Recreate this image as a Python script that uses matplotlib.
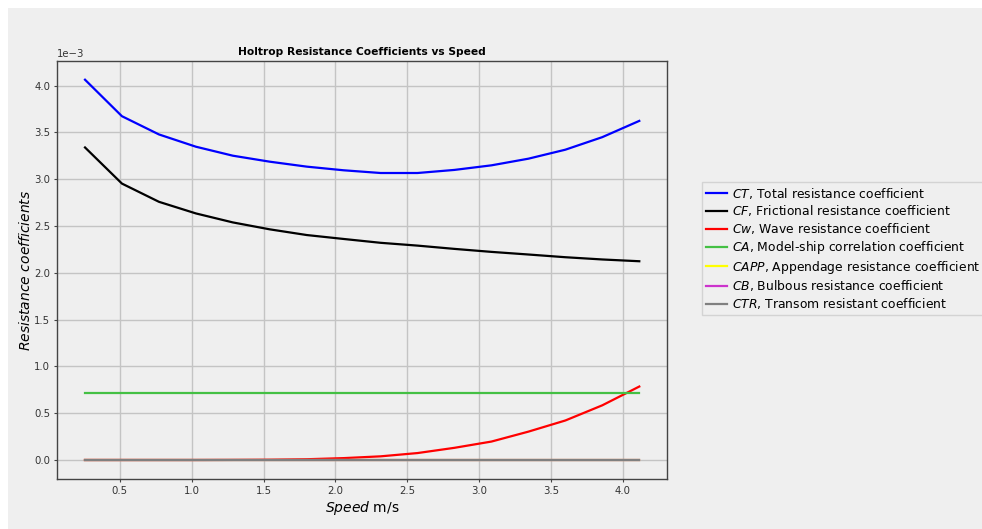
import matplotlib
matplotlib.use("Agg")
import matplotlib.pyplot as plt
from matplotlib.patches import Rectangle

# Ship speeds (m/s): 0.5 to 8 knots in 0.5 kn steps
speed = [0.257, 0.514, 0.772, 1.029, 1.286, 1.543, 1.801, 2.058,
         2.315, 2.572, 2.829, 3.087, 3.344, 3.601, 3.858, 4.116]

# Holtrop resistance coefficient components
CT = [4.064, 3.674, 3.479, 3.348, 3.252, 3.188, 3.135, 3.096,
      3.067, 3.067, 3.100, 3.149, 3.220, 3.316, 3.450, 3.624]
CF = [3.340, 2.954, 2.759, 2.635, 2.539, 2.465, 2.404, 2.362,
      2.321, 2.291, 2.256, 2.224, 2.196, 2.167, 2.143, 2.124]
CW = [0.000, 0.000, 0.000, 0.000, 0.001, 0.003, 0.008, 0.020,
      0.039, 0.074, 0.130, 0.197, 0.303, 0.422, 0.584, 0.785]
CA = [0.715] * 16
CAPP = [0.0] * 16
CB = [0.0] * 16
CTR = [0.0] * 16

labels = [
    r"$CT$, Total resistance coefficient",
    r"$CF$, Frictional resistance coefficient",
    r"$Cw$, Wave resistance coefficient",
    r"$CA$, Model-ship correlation coefficient",
    r"$CAPP$, Appendage resistance coefficient",
    r"$CB$, Bulbous resistance coefficient",
    r"$CTR$, Transom resistant coefficient",
]
colors = ["#0000ff", "#000000", "#ff0000", "#44c044", "#ffff00", "#cc33cc", "#808080"]
series = [CT, CF, CW, CA, CAPP, CB, CTR]

bg = "#efefef"
fig = plt.figure(figsize=(9.82, 5.29), dpi=100, facecolor="white")
fig.patches.append(Rectangle((8 / 982, 0), 1, 1 - 8 / 529, transform=fig.transFigure,
                             facecolor=bg, edgecolor="none", zorder=-10))
ax = fig.add_axes([57.3 / 982, 1 - 479 / 529, (667 - 57.3) / 982, (479 - 60.7) / 529])
ax.set_facecolor(bg)

for vals, col, lab in zip(series, colors, labels):
    ax.plot(speed, [v * 1e-3 for v in vals], color=col, lw=1.6, label=lab)

ax.grid(True, color="#c4c4c4", lw=1.0)
ax.set_axisbelow(True)
for s in ax.spines.values():
    s.set_color("#444444")
    s.set_linewidth(1.0)
ax.tick_params(labelsize=7.3, colors="#444444", labelcolor="#333333", length=2.2, pad=3)
ax.ticklabel_format(axis="y", style="sci", scilimits=(0, 0))
ax.yaxis.get_offset_text().set_fontsize(7.3)

ax.set_title("Holtrop Resistance Coefficients vs Speed", fontsize=7.7, fontweight="bold", pad=4)
ax.set_xlabel(r"$Speed$ m/s", fontsize=10, labelpad=2)
ax.set_ylabel(r"$Resistance\ coefficients$", fontsize=10, labelpad=1)

leg = ax.legend(loc="upper left", bbox_to_anchor=(702 / 982, 1 - 182 / 529),
                bbox_transform=fig.transFigure, borderaxespad=0, fontsize=8.9,
                frameon=True, fancybox=False, handlelength=1.7, handletextpad=0.45,
                labelspacing=0.22, borderpad=0.3)
leg.get_frame().set_facecolor(bg)
leg.get_frame().set_edgecolor("#cccccc")

fig.savefig("out.png", dpi=100, facecolor=fig.get_facecolor())
